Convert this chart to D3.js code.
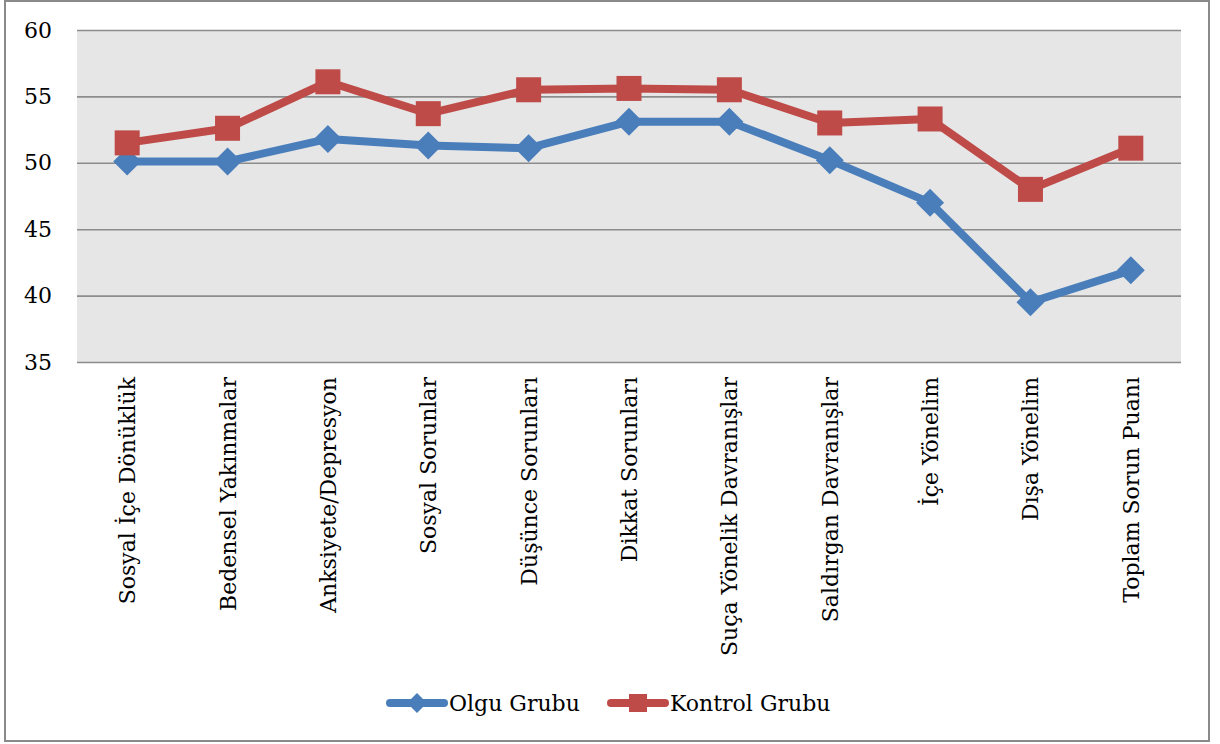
<!DOCTYPE html>
<html><head><meta charset="utf-8">
<script src="https://cdn.jsdelivr.net/npm/d3@7"></script>
<style>body{margin:0;background:#fff}svg{display:block}</style>
</head><body>
<svg id="c" width="1220" height="744"></svg>
<script>
const categories = ["Sosyal İçe Dönüklük","Bedensel Yakınmalar","Anksiyete/Depresyon","Sosyal Sorunlar","Düşünce Sorunları","Dikkat Sorunları","Suça Yönelik Davranışlar","Saldırgan Davranışlar","İçe Yönelim","Dışa Yönelim","Toplam Sorun Puanı"];
const olgu = [50.1,50.1,51.8,51.3,51.1,53.1,53.1,50.2,47.0,39.5,41.9];
const kontrol = [51.5,52.6,56.1,53.7,55.5,55.6,55.5,53.0,53.3,48.0,51.1];
const yTicks = [35,40,45,50,55,60];
const seriesNames = ["Olgu Grubu","Kontrol Grubu"];

const svg = d3.select("#c");
const font = "DejaVu Serif";
const fs = 22;
const L = 77, R = 1181, T = 30, B = 362;
const blue = "#4A7EBB", red = "#BE4B48";

svg.append("rect").attr("x",5).attr("y",1).attr("width",1204).attr("height",740)
  .attr("fill","#fff").attr("stroke","#8a8a8a").attr("stroke-width",2);

const x = d3.scaleBand().domain(categories).range([L,R]);
const y = d3.scaleLinear().domain([35,60]).range([B,T]);
const cx = d => x(d) + x.bandwidth()/2;

svg.append("rect").attr("x",L).attr("y",T).attr("width",R-L).attr("height",B-T).attr("fill","#E6E6E6");

const yAxis = svg.append("g").attr("transform",`translate(${L},0)`)
  .call(d3.axisLeft(y).tickValues(yTicks).tickSize(-(R-L)).tickPadding(25));
yAxis.select(".domain").remove();
yAxis.selectAll("line").attr("stroke","#8c8c8c").attr("stroke-width",1.6);
yAxis.selectAll("text").style("font-family",font).style("font-size",fs+"px").attr("fill","#000");

const xAxis = svg.append("g").attr("transform",`translate(0,${B})`)
  .call(d3.axisBottom(x).tickSize(0).tickPadding(0));
xAxis.select(".domain").remove();
xAxis.selectAll("text")
  .style("font-family",font).style("font-size",fs+"px").attr("fill","#000")
  .attr("text-anchor","end").attr("dy",null).attr("y",0)
  .attr("transform","translate(8,15) rotate(-90)");

const line = d3.line().x((d,i)=>cx(categories[i])).y(d=>y(d));
function drawSeries(vals,color,marker){
  svg.append("path").datum(vals).attr("d",line).attr("fill","none")
    .attr("stroke",color).attr("stroke-width",8).attr("stroke-linejoin","round");
  const g = svg.append("g");
  vals.forEach((v,i)=>{
    const px = cx(categories[i]), py = y(v);
    if(marker==="diamond"){
      g.append("path").attr("d",`M${px},${py-14}L${px+14},${py}L${px},${py+14}L${px-14},${py}Z`).attr("fill",color);
    } else {
      g.append("rect").attr("x",px-12.5).attr("y",py-12.5).attr("width",25).attr("height",25).attr("fill",color);
    }
  });
}
drawSeries(olgu,blue,"diamond");
drawSeries(kontrol,red,"square");

// legend
const leg = svg.append("g");
const items = [{n:seriesNames[0],c:blue,m:"diamond",x0:387},{n:seriesNames[1],c:red,m:"square",x0:608}];
const ly = 703;
items.forEach(it=>{
  leg.append("line").attr("x1",it.x0+3).attr("x2",it.x0+57).attr("y1",ly).attr("y2",ly)
    .attr("stroke",it.c).attr("stroke-width",8).attr("stroke-linecap","round");
  const mx = it.x0+30;
  if(it.m==="diamond") leg.append("path").attr("d",`M${mx},${ly-10}L${mx+10},${ly}L${mx},${ly+10}L${mx-10},${ly}Z`).attr("fill",it.c);
  else leg.append("rect").attr("x",mx-9).attr("y",ly-9).attr("width",18).attr("height",18).attr("fill",it.c);
  leg.append("text").attr("x",it.x0+62).attr("y",ly+8).text(it.n)
    .style("font-family",font).style("font-size",fs+"px").attr("fill","#000");
});
</script>
</body></html>
